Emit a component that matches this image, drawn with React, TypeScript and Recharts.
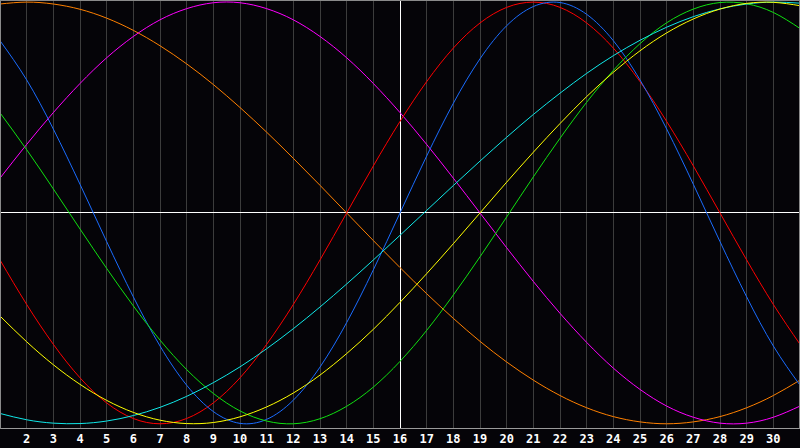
import React from 'react';
import { LineChart, Line, XAxis, YAxis, CartesianGrid, ReferenceLine } from 'recharts';

// Day of month along the bottom
const days = [1, 2, 3, 4, 5, 6, 7, 8, 9, 10, 11, 12, 13, 14, 15, 16, 17, 18, 19, 20, 21, 22, 23, 24, 25, 26, 27, 28, 29, 30, 31];
const dayTicks = [2, 3, 4, 5, 6, 7, 8, 9, 10, 11, 12, 13, 14, 15, 16, 17, 18, 19, 20, 21, 22, 23, 24, 25, 26, 27, 28, 29, 30];

// Cycle values (-100..100) read per day
const physical = [81.7, 63.1, 39.8, 13.6, -13.6, -39.8, -63.1, -81.7, -94.2, -99.8, -97.9, -88.8, -73.1, -52.0, -27.0, 0, 27.0, 52.0, 73.1, 88.8, 97.9, 99.8, 94.2, 81.7, 63.1, 39.8, 13.6, -13.6, -39.8, -63.1, -81.7];
const emotional = [-22.3, -43.4, -62.3, -78.2, -90.1, -97.5, -100, -97.5, -90.1, -78.2, -62.3, -43.4, -22.3, 0, 22.3, 43.4, 62.3, 78.2, 90.1, 97.5, 100, 97.5, 90.1, 78.2, 62.3, 43.4, 22.3, 0, -22.3, -43.4, -62.3];
const intellectual = [47.5, 30.0, 11.4, -7.6, -26.3, -44.1, -60.3, -74.3, -85.6, -93.9, -98.7, -100, -97.6, -91.7, -82.6, -70.4, -55.7, -38.9, -20.8, -1.9, 17.1, 35.4, 52.5, 67.6, 80.3, 90.2, 96.7, 99.8, 99.2, 95.1, 87.5];
const aesthetic = [-48.9, -61.1, -72.0, -81.3, -88.9, -94.6, -98.3, -99.9, -99.4, -96.7, -92.0, -85.4, -76.9, -66.7, -55.2, -42.4, -28.8, -14.6, 0, 14.6, 28.8, 42.4, 55.2, 66.7, 76.9, 85.4, 92.0, 96.7, 99.4, 99.9, 98.3];
const spiritual = [-95.1, -98.1, -99.7, -99.9, -98.7, -96.1, -92.2, -87.0, -80.5, -73.0, -64.4, -54.9, -44.6, -33.7, -22.3, -10.6, 1.2, 13.0, 24.6, 35.9, 46.7, 56.8, 66.2, 74.6, 81.9, 88.1, 93.1, 96.8, 99.1, 100, 99.5];
const intuitive = [16.5, 32.5, 47.6, 61.4, 73.6, 83.7, 91.6, 96.9, 99.7, 99.7, 96.9, 91.6, 83.7, 73.6, 61.4, 47.6, 32.5, 16.5, 0, -16.5, -32.5, -47.6, -61.4, -73.6, -83.7, -91.6, -96.9, -99.7, -99.7, -96.9, -91.6];
const awareness = [99.1, 100, 99.1, 96.6, 92.4, 86.6, 79.3, 70.7, 60.9, 50.0, 38.3, 25.9, 13.1, 0, -13.1, -25.9, -38.3, -50.0, -60.9, -70.7, -79.3, -86.6, -92.4, -96.6, -99.1, -100, -99.1, -96.6, -92.4, -86.6, -79.3];

const today = 16;

const data = days.map((day, i) => ({
  day,
  physical: physical[i],
  emotional: emotional[i],
  intellectual: intellectual[i],
  aesthetic: aesthetic[i],
  spiritual: spiritual[i],
  intuitive: intuitive[i],
  awareness: awareness[i],
}));

const series = [
  { key: 'awareness', color: '#ff8000' },
  { key: 'intuitive', color: '#ff00ff' },
  { key: 'emotional', color: '#ff0000' },
  { key: 'physical', color: '#1a6cff' },
  { key: 'intellectual', color: '#10e010' },
  { key: 'spiritual', color: '#10e8e8' },
  { key: 'aesthetic', color: '#ffff00' },
];

export default function App() {
  return (
    <div style={{ position: 'fixed', top: 0, left: 0, width: 800, height: 448, background: '#050408', overflow: 'hidden' }}>
      <LineChart width={800} height={448} data={data} margin={{ top: 0, right: 0, bottom: 0, left: 0 }}>
        <CartesianGrid vertical={true} horizontal={false} stroke="#3c3c3c" shapeRendering="crispEdges" />
        <XAxis
          dataKey="day"
          type="number"
          domain={[1, 31]}
          ticks={dayTicks}
          interval={0}
          height={20}
          tickLine={false}
          tickMargin={0}
          axisLine={{ stroke: '#9a9a9a', shapeRendering: 'crispEdges' }}
          tick={{ fill: '#ffffff', fontSize: 12, fontWeight: 'bold', fontFamily: 'DejaVu Sans Mono, monospace' }}
          allowDataOverflow
        />
        <YAxis hide type="number" domain={[-102, 101]} allowDataOverflow />
        <ReferenceLine x={today} stroke="#ffffff" strokeWidth={1} shapeRendering="crispEdges" />
        <ReferenceLine y={0} stroke="#ffffff" strokeWidth={1} shapeRendering="crispEdges" />
        {series.map((s) => (
          <Line
            key={s.key}
            type="natural"
            dataKey={s.key}
            stroke={s.color}
            strokeWidth={1}
            dot={false}
            activeDot={false}
            isAnimationActive={false}
          />
        ))}
      </LineChart>
      {/* frame on top, left and right */}
      <div style={{ position: 'absolute', left: 0, top: 0, width: 800, height: 429, boxSizing: 'border-box', borderLeft: '1px solid #8a8a8a', borderRight: '1px solid #8a8a8a', borderTop: '1px solid #8a8a8a', pointerEvents: 'none' }} />
    </div>
  );
}
